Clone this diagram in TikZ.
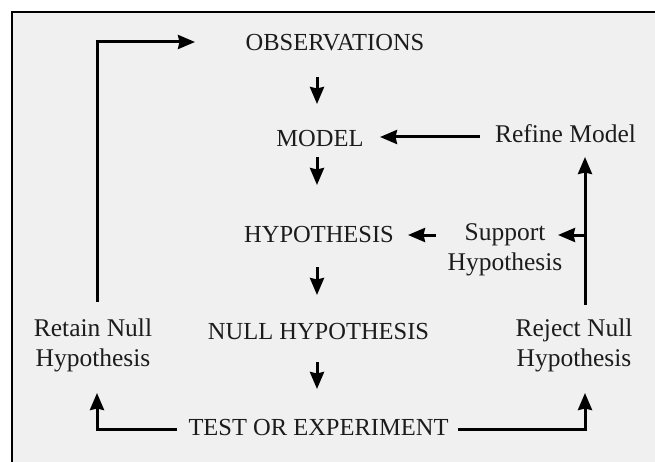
\documentclass[tikz,border=0pt]{standalone}
\usepackage{fontspec}
\setmainfont{Liberation Serif}
\usetikzlibrary{arrows.meta,calc}
\definecolor{panel}{RGB}{239,240,239}
\definecolor{ink}{RGB}{28,28,28}
\begin{document}
\begin{tikzpicture}[x=1pt,y=-1pt,
  caps/.style={anchor=base,inner sep=0pt,text=ink,font=\fontsize{24.5}{29}\selectfont},
  words/.style={anchor=base,inner sep=0pt,text=ink,align=center,font=\fontsize{25.5}{30}\selectfont},
  link/.style={line width=3pt,-{Stealth[length=17pt,width=14pt,inset=1.5pt]}}]
\useasboundingbox (0,0) rectangle (655,462);
\clip (0,0) rectangle (655,462);
\fill[white] (0,0) rectangle (655,462);
% panel with its frame (runs off the right and bottom edges)
\filldraw[fill=panel,draw=black,line width=2.8pt] (12,12) rectangle (700,520);

% main column
\node[caps] (obs)   at (335,51)    {OBSERVATIONS};
\node[caps] (model) at (320,147)   {MODEL};
\node[caps] (hyp)   at (319,243)   {HYPOTHESIS};
\node[caps] (null)  at (318.5,339) {NULL HYPOTHESIS};
\node[caps] (test)  at (318.5,435) {TEST OR EXPERIMENT};

% side outcomes (base anchor = baseline of the last line)
\node[words] (refine)  at (565.5,143) {Refine Model};
\node[words] (support) at (505,270)   {Support\\Hypothesis};
\node[words] (retain)  at (93,366.5)  {Retain Null\\Hypothesis};
\node[words] (reject)  at (574,366.5) {Reject Null\\Hypothesis};

% downward steps
\draw[link] ($(obs.base)+(-18,26)$)    -- ($(model.base)+(-3,-43)$);
\draw[link] ($(model.base)+(-3,10)$)   -- ($(hyp.base)+(-2,-58)$);
\draw[link] ($(hyp.base)+(-2,24)$)     -- ($(null.base)+(-1.5,-44)$);
\draw[link] ($(null.base)+(-1.5,23)$)  -- ($(test.base)+(-1.5,-46)$);

% test outcomes
\draw[link] ($(test.base)+(-141.5,-6)$) -| ($(retain.base)+(4,26.5)$);
\draw[link] ($(test.base)+(139.5,-6)$)  -| ($(reject.base)+(11,26.5)$);

% retain: back to observations
\draw[link] ($(retain.base)+(4,-64.5)$) |- ($(obs.base)+(-140,-9)$);

% reject: refine model, with a branch to support hypothesis
\draw[link] ($(reject.base)+(11,-61.5)$) -- ($(refine.base)+(19.5,14)$);
\coordinate (fork) at ($(reject.base)+(11,-131.5)$);
\draw[link] (fork) -- ($(support.base)+(53,-35)$);
\draw[link] ($(support.base)+(-69,-35)$) -- ($(hyp.base)+(89,-8)$);
\draw[link] ($(refine.base)+(-85.5,-6)$) -- ($(model.base)+(60,-10)$);
\end{tikzpicture}
\end{document}
